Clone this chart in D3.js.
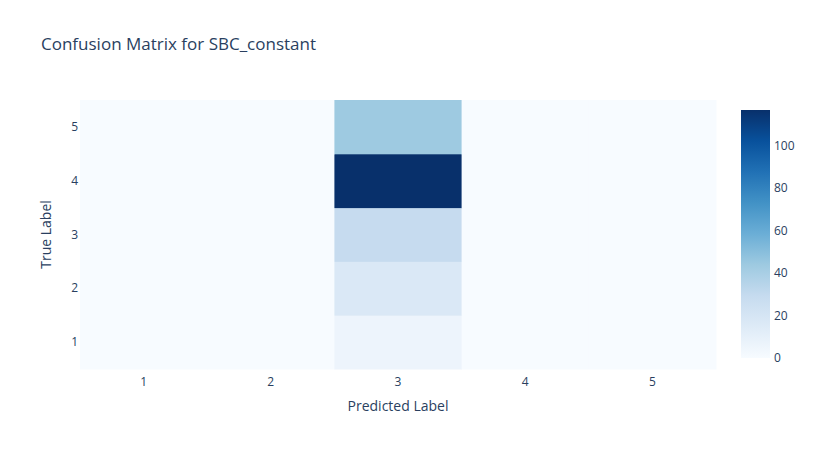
<!DOCTYPE html>
<html><head><meta charset="utf-8">
<script src="https://cdn.jsdelivr.net/npm/d3@7"></script>
<style>body{margin:0;background:#fff}text{font-family:"Open Sans",sans-serif}</style>
</head><body><svg id="c" width="816" height="450"></svg>
<script>
const predicted = ["1","2","3","4","5"];
const trueLabels = ["1","2","3","4","5"];
// rows: true label 1..5, columns: predicted 1..5
const matrix = [
  [0,0,6,0,0],
  [0,0,17,0,0],
  [0,0,29,0,0],
  [0,0,117,0,0],
  [0,0,44,0,0]
];
const colorTicks = [0,20,40,60,80,100];
const blues = [[0,'rgb(247,251,255)'],[0.125,'rgb(222,235,247)'],[0.25,'rgb(198,219,239)'],[0.375,'rgb(158,202,225)'],[0.5,'rgb(107,174,214)'],[0.625,'rgb(66,146,198)'],[0.75,'rgb(33,113,181)'],[0.875,'rgb(8,81,156)'],[1,'rgb(8,48,107)']];

const svg = d3.select("#c");
const L=80,R=716,T=100,B=369;
const zmax = d3.max(matrix.flat());
const x = d3.scaleBand().domain(predicted).range([L,R]).padding(0);
const y = d3.scaleBand().domain(trueLabels).range([B,T]).padding(0);
const cs = d3.scaleLinear().domain(blues.map(d=>d[0]*zmax)).range(blues.map(d=>d[1])).interpolate(d3.interpolateRgb);
const cells=[];
matrix.forEach((row,i)=>row.forEach((v,j)=>cells.push({t:trueLabels[i],p:predicted[j],v})));
svg.selectAll("rect.cell").data(cells).join("rect").attr("class","cell")
  .attr("x",d=>x(d.p)).attr("y",d=>y(d.t)).attr("width",x.bandwidth()+0.5).attr("height",y.bandwidth()+0.5)
  .attr("fill",d=>cs(d.v));
const txt="#2a3f5f";
svg.append("g").selectAll("text").data(predicted).join("text")
  .attr("x",d=>x(d)+x.bandwidth()/2).attr("y",B+17).attr("text-anchor","middle").attr("font-size",12).attr("fill",txt).text(d=>d);
svg.append("g").selectAll("text").data(trueLabels).join("text")
  .attr("x",L-2).attr("y",d=>y(d)+y.bandwidth()/2+4).attr("text-anchor","end").attr("font-size",12).attr("fill",txt).text(d=>d);
svg.append("text").attr("x",(L+R)/2).attr("y",411).attr("text-anchor","middle").attr("font-size",14).attr("fill",txt).text("Predicted Label");
svg.append("text").attr("transform",`translate(51,${(T+B)/2}) rotate(-90)`).attr("text-anchor","middle").attr("font-size",14).attr("fill",txt).text("True Label");
svg.append("text").attr("x",41).attr("y",50).attr("font-size",17).attr("fill",txt).text("Confusion Matrix for SBC_constant");
// colorbar
const cbT=110,cbB=358,cbX=741,cbW=29;
const cy = d3.scaleLinear().domain([0,zmax]).range([cbB,cbT]);
const defs=svg.append("defs");
const g=defs.append("linearGradient").attr("id","gr").attr("x1",0).attr("y1",1).attr("x2",0).attr("y2",0);
blues.forEach(b=>g.append("stop").attr("offset",b[0]).attr("stop-color",b[1]));
svg.append("rect").attr("x",cbX).attr("y",cbT).attr("width",cbW).attr("height",cbB-cbT).attr("fill","url(#gr)");
svg.append("g").selectAll("text").data(colorTicks).join("text")
  .attr("x",cbX+cbW+4).attr("y",d=>cy(d)+4).attr("font-size",12).attr("fill",txt).text(d=>d);
</script></body></html>
